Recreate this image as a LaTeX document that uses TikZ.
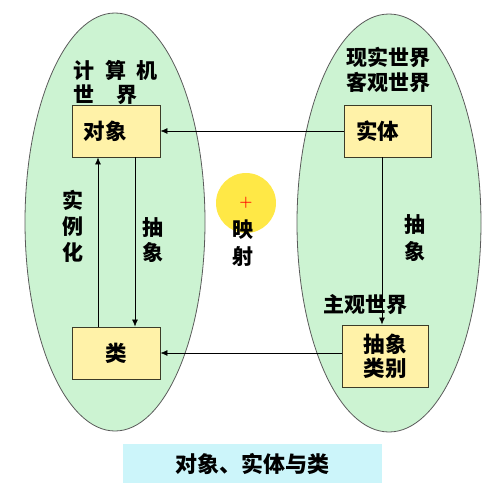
\documentclass[tikz,border=0pt]{standalone}
\usepackage{fontspec}
\newfontfamily\cjk{Noto Sans CJK SC}
\usetikzlibrary{arrows.meta}
\definecolor{ellfill}{RGB}{204,243,210}
\definecolor{ellline}{RGB}{90,90,90}
\definecolor{boxfill}{RGB}{255,242,168}
\definecolor{boxline}{RGB}{60,60,40}
\definecolor{sun}{RGB}{255,232,70}
\definecolor{titlefill}{RGB}{204,245,250}
\tikzset{
  cbox/.style={draw=boxline, line width=0.9pt, fill=boxfill, rectangle, inner sep=0pt, font=\cjk\bfseries\fontsize{21.5}{24}\selectfont},
  lbl/.style={font=\cjk\bfseries\fontsize{21}{25}\selectfont, inner sep=0pt, align=center},
  conn/.style={draw=black, line width=0.7pt, -{Latex[length=7pt,width=6pt]}},
}
\begin{document}
\begin{tikzpicture}[x=1pt,y=-1pt]
\useasboundingbox (0,0) rectangle (492,496);
% worlds
\fill[ellfill] (115,222) ellipse [x radius=90, y radius=209];
\draw[ellline, line width=0.8pt] (115,222) ellipse [x radius=90, y radius=209];
\fill[ellfill] (389,223) ellipse [x radius=92, y radius=209];
\draw[ellline, line width=0.8pt] (389,223) ellipse [x radius=92, y radius=209];
% sun
\fill[sun] (246,203) circle [radius=30];
\node[text=red, font=\bfseries\fontsize{15}{15}\selectfont, inner sep=0pt] (plus) at (246,203) {+};
% boxes
\node[cbox, minimum width=88pt, minimum height=52pt] (obj) at (116,131) {\hspace*{-22pt}对象};
\node[cbox, minimum width=87pt, minimum height=52pt] (ent) at (387.5,131) {\hspace*{-20pt}实体};
\node[cbox, minimum width=88pt, minimum height=52pt] (cls) at (116,353) {类};
\node[cbox, minimum width=86pt, minimum height=62pt, align=center] (abs) at (385,356) {抽象\\类别};
% labels
\node[lbl, anchor=west] (l1) at (73,70) {计\hspace{11pt}算\hspace{10pt}机};
\node[lbl, anchor=west] (l2) at (73,95) {世\hspace{22pt}界};
\node[lbl, align=center] (r1) at (388.5,69.5) {现实世界\\客观世界};
\node[lbl] (sub) at (365.5,305) {主观世界};
\node[lbl, font=\cjk\bfseries\fontsize{21}{26}\selectfont] (inst) at (73,226) {实\\例\\化};
\node[lbl] (absl) at (153,240) {抽\\象};
\node[lbl, font=\cjk\bfseries\fontsize{21}{27}\selectfont] (absr) at (415,238.5) {抽\\象};
\node[lbl, font=\cjk\bfseries\fontsize{21}{27}\selectfont] (map) at (243,243.5) {映\\射};
% title
\node[fill=titlefill, minimum width=259pt, minimum height=39pt, inner sep=0pt,
      font=\cjk\bfseries\fontsize{22}{24}\selectfont] (title) at (252.5,463.5) {对象、实体与类};
% connectors
\draw[conn] (ent.west) -- (obj.east);
\draw[conn] (abs.west |- cls.east) -- (cls.east);
\draw[conn] (cls.north -| 98,0) -- (obj.south -| 98,0);
\draw[conn] (obj.south -| 135,0) -- (cls.north -| 135,0);
\draw[conn] (ent.south -| 382,0) -- (abs.north -| 382,0);
\end{tikzpicture}
\end{document}
